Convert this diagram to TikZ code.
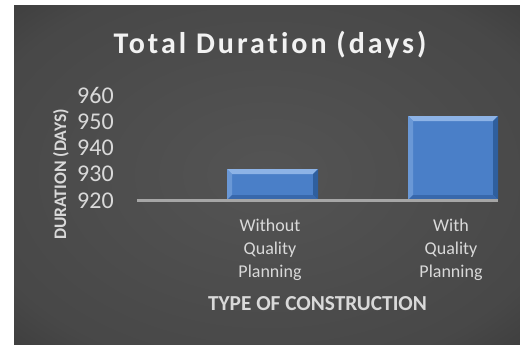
\documentclass[tikz,border=0pt]{standalone}
\usepackage{fontspec}
\setmainfont{Carlito}
\begin{document}
\begin{tikzpicture}[x=0.75pt,y=-0.75pt,
  lbl/.style={text=txtgray,inner sep=0pt},
  tick/.style={lbl,anchor=east,font=\fontsize{18}{20}\selectfont},
  cat/.style={lbl,align=center,font=\fontsize{13.5}{17.25}\selectfont},
  axtitle/.style={lbl,font=\bfseries\fontsize{16}{18}\selectfont},
]
\definecolor{txtgray}{HTML}{D9D9D9}
\definecolor{bgin}{HTML}{545454}
\definecolor{bgout}{HTML}{2A2A2A}
\definecolor{barmain}{HTML}{4A7FC8}
\definecolor{bartop}{HTML}{8DB3E6}
\definecolor{barleft}{HTML}{6A98D6}
\definecolor{barright}{HTML}{2F5F9E}
\definecolor{barbot}{HTML}{3868AC}
\definecolor{axisline}{HTML}{A6A6A6}
\pgfdeclareradialshading{bgshade}{\pgfpoint{0bp}{0bp}}{color(0bp)=(bgin); color(30bp)=(bgin!70!bgout); color(50bp)=(bgout); color(72bp)=(bgout!85!black)}
\useasboundingbox (0,0) rectangle (520,344);
\fill[white] (0,0) rectangle (520,344);
\shade[shading=bgshade] (14,5) rectangle (520,344);
% title
\node[lbl,text=white!95!black,font=\bfseries\fontsize{22.5}{26}\selectfont\addfontfeature{LetterSpace=10,Ligatures=NoCommon}] (title) at (270,45) {Total Duration (days)};
% axis
\coordinate (ax0) at (137,200.5);
\coordinate (ax1) at (498,200.5);
% bars
\newcommand\mybar[4]{% x0 x1 top name
  \fill[barmain] (#1,#3) rectangle (#2,200);
  \fill[bartop] (#1,#3) -- (#2,#3) -- ({#2-5},{#3+5}) -- ({#1+5},{#3+5}) -- cycle;
  \fill[barleft] (#1,#3) -- ({#1+5},{#3+5}) -- ({#1+5},195) -- (#1,200) -- cycle;
  \fill[barright] (#2,#3) -- ({#2-5},{#3+5}) -- ({#2-5},195) -- (#2,200) -- cycle;
  \fill[barbot] (#1,200) -- ({#1+5},195) -- ({#2-5},195) -- (#2,200) -- cycle;
  \coordinate (#4) at ({(#1+#2)/2},#3);
}
\mybar{227}{318}{169}{b1}
\mybar{408}{498}{116}{b2}
\draw[axisline,line width=1.6pt] (ax0) -- (ax1);
% ticks
\node[tick] (t960) at (114,95) {960};
\node[tick] (t950) at (114,121.4) {950};
\node[tick] (t940) at (114,147.8) {940};
\node[tick] (t930) at (114,174.1) {930};
\node[tick] (t920) at (114,200.5) {920};
% categories
\node[cat,anchor=north] (c1) at (270,219) {Without\\Quality\\Planning};
\node[cat,anchor=north] (c2) at (451,219) {With\\Quality\\Planning};
% axis titles
\node[axtitle] (xt) at (317.5,304) {TYPE OF CONSTRUCTION};
\node[axtitle,rotate=90,font=\bfseries\fontsize{13.2}{15}\selectfont] (yt) at (61,174.5) {DURATION (DAYS)};
\end{tikzpicture}
\end{document}
